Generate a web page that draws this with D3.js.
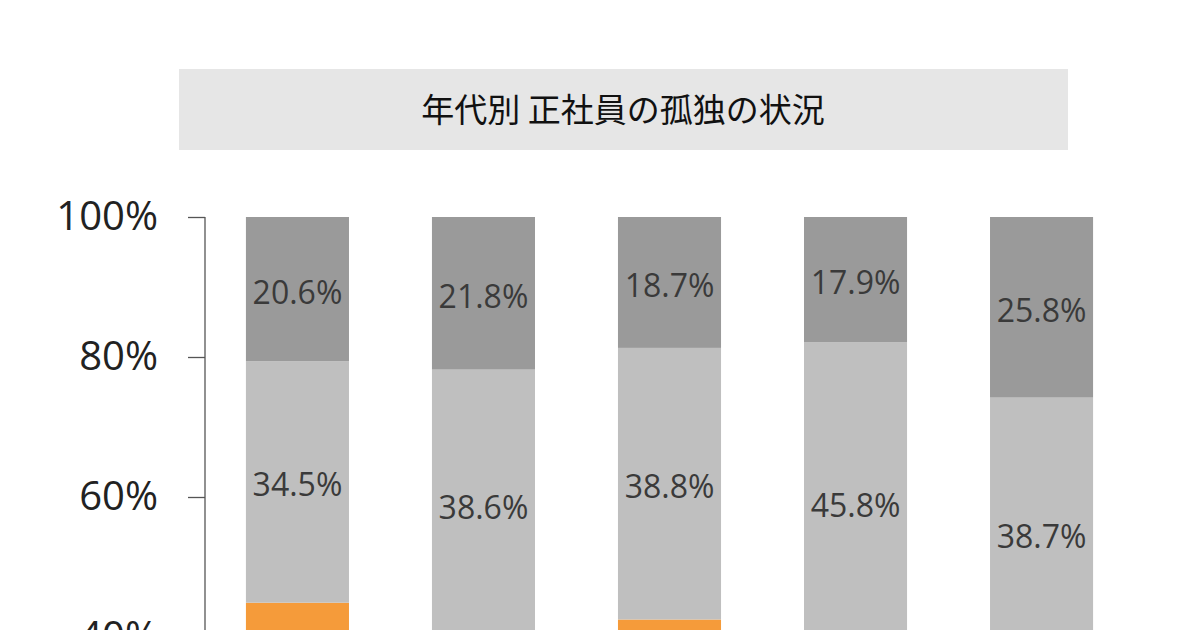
<!DOCTYPE html>
<html><head><meta charset="utf-8">
<script src="https://cdn.jsdelivr.net/npm/d3@7"></script>
<style>
html,body{margin:0;padding:0;background:#fff;overflow:hidden;}
svg{display:block;}
</style></head>
<body>
<svg id="chart" width="1200" height="630"></svg>
<script>
const title = "年代別 正社員の孤独の状況";
const categories = ["20代", "30代", "40代", "50代", "60代"];
// stacked from bottom: orange (mostly below the visible area), light gray, dark gray
const orangeValues = [44.9, 39.6, 42.5, 36.3, 35.5];
const lightValues = [34.5, 38.6, 38.8, 45.8, 38.7];
const darkValues = [20.6, 21.8, 18.7, 17.9, 25.8];
const tickValues = [40, 60, 80, 100];
const colors = ["#f59b3a", "#bfbfbf", "#9a9a9a"];

const svg = d3.select("#chart");

// title box
svg.append("rect").attr("x", 179).attr("y", 69).attr("width", 889).attr("height", 81).attr("fill", "#e6e6e6");
svg.append("text").attr("x", 623).attr("y", 122).attr("text-anchor", "middle")
  .attr("font-family", "'Noto Sans CJK JP', sans-serif").attr("font-size", 33).attr("font-weight", 400)
  .attr("fill", "#111").text(title);

const y = d3.scaleLinear().domain([0, 100]).range([917, 217]);
const x = d3.scaleBand().domain(categories).range([205, 1134]).paddingInner(0.446).paddingOuter(0.22);

const rows = categories.map((c, i) => ({cat: c, s0: orangeValues[i], s1: lightValues[i], s2: darkValues[i]}));
const layers = d3.stack().keys(["s0", "s1", "s2"])(rows);

const g = svg.append("g");
layers.forEach((layer, li) => {
  g.selectAll(null).data(layer).enter().append("rect")
    .attr("x", d => x(d.data.cat))
    .attr("width", x.bandwidth())
    .attr("y", d => y(d[1]))
    .attr("height", d => y(d[0]) - y(d[1]))
    .attr("fill", colors[li]);
  if (li === 0) return; // orange labels lie below the visible area
  g.selectAll(null).data(layer).enter().append("text")
    .attr("x", d => x(d.data.cat) + x.bandwidth() / 2)
    .attr("y", d => (y(d[0]) + y(d[1])) / 2 + 3)
    .attr("dy", "0.36em")
    .attr("text-anchor", "middle")
    .attr("font-family", "'Open Sans', sans-serif")
    .attr("font-size", 32)
    .attr("fill", "#3a3a3a")
    .text(d => (d[1] - d[0]).toFixed(1) + "%");
});

// y axis
const axis = d3.axisLeft(y).tickValues(tickValues).tickSize(17).tickPadding(30).tickFormat(d => d + "%");
const ag = svg.append("g").attr("transform", "translate(205,0)").call(axis);
ag.select(".domain").attr("stroke", "#555").attr("stroke-width", 1.3).attr("d", "M0,217V917");
ag.selectAll(".tick line").attr("stroke", "#555").attr("stroke-width", 1.3);
ag.selectAll(".tick text").attr("font-family", "'Open Sans', sans-serif").attr("font-size", 40).attr("fill", "#222");
</script>
</body></html>
